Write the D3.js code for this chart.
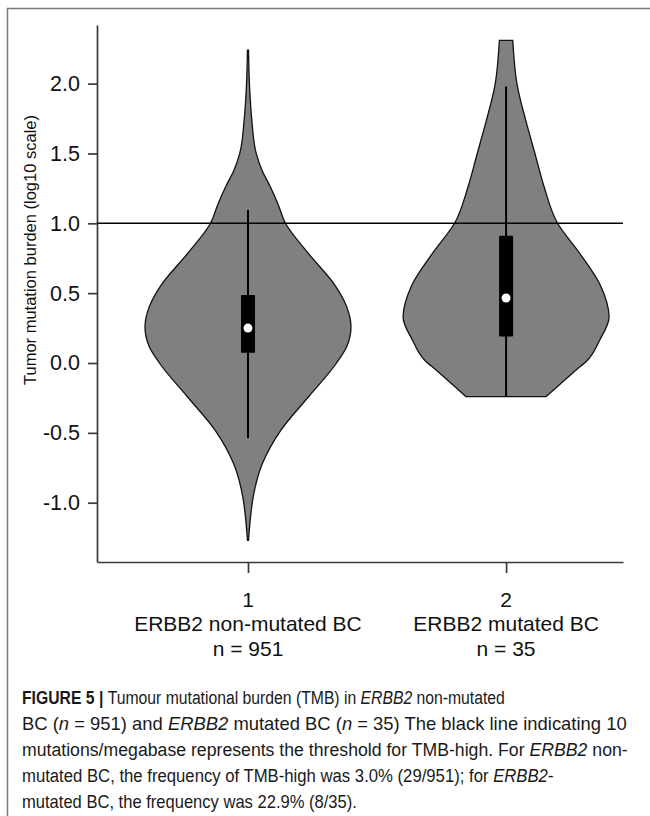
<!DOCTYPE html>
<html>
<head>
<meta charset="utf-8">
<script src="https://cdn.jsdelivr.net/npm/d3@7"></script>
<style>
  body { margin: 0; background: #fff; }
  svg { display: block; }
</style>
</head>
<body>
<svg id="chart" width="650" height="816"></svg>
<script>
// Categories and labels
var groups = [1, 2];
var groupNames = ["ERBB2 non-mutated BC", "ERBB2 mutated BC"];
var groupN = ["n = 951", "n = 35"];

// Violin outlines: value (log10 TMB) and relative density width
var violin1Values = [2.24, 2.0, 1.74, 1.5, 1.38, 1.26, 1.14, 1.0, 0.79, 0.55, 0.40, 0.26, 0.12, 0.0, -0.24, -0.48, -0.72, -0.96, -1.1, -1.27];
var violin1Density = [0.005, 0.014, 0.037, 0.08, 0.136, 0.218, 0.29, 0.364, 0.58, 0.85, 0.96, 1.0, 0.96, 0.86, 0.59, 0.32, 0.14, 0.05, 0.025, 0.005];
var violin2Values = [2.31, 1.98, 1.74, 1.5, 1.26, 1.0, 0.79, 0.55, 0.33, 0.165, 0.02, -0.05, -0.24];
var violin2Density = [0.065, 0.11, 0.19, 0.28, 0.37, 0.5, 0.71, 0.92, 1.0, 0.91, 0.79, 0.68, 0.39];

// Box summaries
var whiskerLow = [-0.537, -0.24];
var whiskerHigh = [1.095, 1.98];
var q1 = [0.074, 0.19];
var q3 = [0.487, 0.91];
var medians = [0.25, 0.465];

// threshold: 10 mutations/megabase
var threshold = 1.0;
var yTicks = [-1.0, -0.5, 0.0, 0.5, 1.0, 1.5, 2.0];

var captionLines = [
  [["FIGURE 5 | ", "b"], ["Tumour mutational burden (TMB) in ", ""], ["ERBB2", "i"], [" non-mutated", ""]],
  [["BC (", ""], ["n", "i"], [" = 951) and ", ""], ["ERBB2", "i"], [" mutated BC (", ""], ["n", "i"], [" = 35) The black line indicating 10", ""]],
  [["mutations/megabase represents the threshold for TMB-high. For ", ""], ["ERBB2", "i"], [" non-", ""]],
  [["mutated BC, the frequency of TMB-high was 3.0% (29/951); for ", ""], ["ERBB2", "i"], ["-", ""]],
  [["mutated BC, the frequency was 22.9% (8/35).", ""]]
];
var captionWidths = [483, 605, 606, 532, 335];

var svg = d3.select("#chart");

// frame around figure
svg.append("rect")
    .attr("x", 7.5).attr("y", 8.5)
    .attr("width", 720).attr("height", 900)
    .attr("fill", "none")
    .attr("stroke", "#7a7a7a")
    .attr("stroke-width", 1.5);

var x = d3.scaleLinear().domain([0.415, 2.453]).range([97, 623]);
var y = d3.scaleLinear().domain([-1.4245, 2.4195]).range([562, 25]);
var w = d3.scaleLinear().domain([0, 1]).range([0, 103]);

var font = "'Liberation Sans', Arial, sans-serif";

// y axis
var yAxis = svg.append("g")
    .attr("transform", "translate(97,0)")
    .call(d3.axisLeft(y).tickValues(yTicks).tickSize(9).tickSizeOuter(0).tickPadding(8)
        .tickFormat(function (d) { return d.toFixed(1); }));
yAxis.selectAll("text")
    .style("font-family", font)
    .style("font-size", "21.5px")
    .attr("fill", "#111");

// x axis
var xAxis = svg.append("g")
    .attr("transform", "translate(0,562)")
    .call(d3.axisBottom(x).tickValues(groups).tickSize(11).tickSizeOuter(0).tickFormat(""));

svg.selectAll(".domain, .tick line")
    .attr("stroke", "#3a3a3a")
    .attr("stroke-width", 1.7);

// category labels (3 lines)
var labels = svg.append("g").selectAll("text")
    .data(groups)
    .enter()
    .append("text")
    .attr("text-anchor", "middle")
    .style("font-family", font)
    .style("font-size", "21px")
    .attr("fill", "#111");
labels.append("tspan").attr("x", function (d) { return x(d); }).attr("y", 607).text(function (d) { return d; });
labels.append("tspan").attr("x", function (d) { return x(d); }).attr("y", 631).text(function (d, i) { return groupNames[i]; });
labels.append("tspan").attr("x", function (d) { return x(d); }).attr("y", 656).text(function (d, i) { return groupN[i]; });

// y axis title
svg.append("text")
    .attr("transform", "translate(36,250) rotate(-90)")
    .attr("text-anchor", "middle")
    .style("font-family", font)
    .style("font-size", "16.5px")
    .attr("fill", "#111")
    .text("Tumor mutation burden (log10 scale)");

// violins
var violins = [
  violin1Values.map(function (v, i) { return { v: v, d: violin1Density[i] }; }),
  violin2Values.map(function (v, i) { return { v: v, d: violin2Density[i] }; })
];

violins.forEach(function (pts, i) {
    var cx = x(groups[i]);
    var area = d3.area()
        .y(function (d) { return y(d.v); })
        .x0(function (d) { return cx - w(d.d); })
        .x1(function (d) { return cx + w(d.d); })
        .curve(d3.curveMonotoneY);
    svg.append("path")
        .datum(pts)
        .attr("d", area)
        .attr("fill", "#808080")
        .attr("stroke", "#111")
        .attr("stroke-width", 1.3);
});

// reference line at TMB-high threshold
svg.append("line")
    .attr("x1", 97).attr("x2", 623)
    .attr("y1", y(threshold)).attr("y2", y(threshold))
    .attr("stroke", "#000")
    .attr("stroke-width", 1.6);

// whiskers, boxes, medians
var box = svg.append("g").selectAll("g")
    .data(groups)
    .enter()
    .append("g");

box.append("line")
    .attr("x1", function (d) { return x(d); })
    .attr("x2", function (d) { return x(d); })
    .attr("y1", function (d, i) { return y(whiskerHigh[i]); })
    .attr("y2", function (d, i) { return y(whiskerLow[i]); })
    .attr("stroke", "#000")
    .attr("stroke-width", 2);

box.append("rect")
    .attr("x", function (d) { return x(d) - 7; })
    .attr("width", 14)
    .attr("y", function (d, i) { return y(q3[i]); })
    .attr("height", function (d, i) { return y(q1[i]) - y(q3[i]); })
    .attr("rx", 1)
    .attr("fill", "#000");

box.append("circle")
    .attr("cx", function (d) { return x(d); })
    .attr("cy", function (d, i) { return y(medians[i]); })
    .attr("r", 4.5)
    .attr("fill", "#fff");

// caption: each line squeezed horizontally to the width it has in the figure
var cap = svg.append("g")
    .style("font-family", font)
    .style("font-size", "19px")
    .attr("fill", "#1a1a1a");

captionLines.forEach(function (parts, i) {
    var t = cap.append("text").attr("x", 0).attr("y", 0);
    parts.forEach(function (p) {
        var s = t.append("tspan").text(p[0]);
        if (p[1] === "b") s.style("font-weight", "bold");
        if (p[1] === "i") s.style("font-style", "italic");
    });
    var natural = t.node().getComputedTextLength();
    var sx = captionWidths[i] / natural;
    t.attr("transform", "translate(22," + (704 + i * 26) + ") scale(" + sx + ",1)");
});
</script>
</body>
</html>
